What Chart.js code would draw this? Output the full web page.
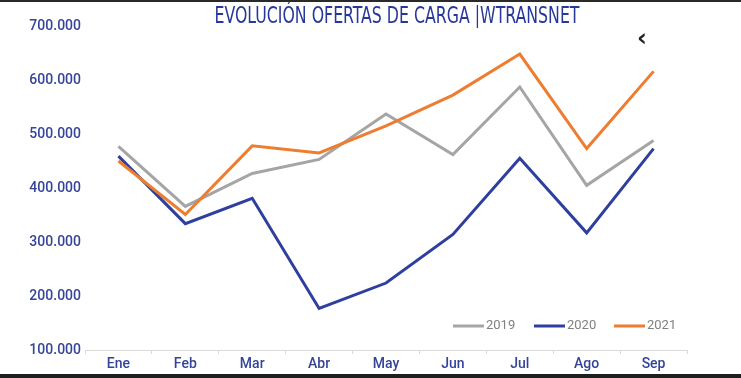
<!DOCTYPE html>
<html>
<head>
    <meta charset="UTF-8">
    <title>Evolución ofertas de carga</title>
    <script src="https://cdn.jsdelivr.net/npm/chart.js"></script>
    <style>
        html, body { margin: 0; padding: 0; background: #ffffff; }
        .wrap { position: relative; width: 741px; height: 378px; overflow: hidden; }
        .band-top { position: absolute; left: 0; top: 0; width: 741px; height: 2px; background: #2a2a2a; }
        .band-bottom { position: absolute; left: 0; top: 374px; width: 741px; height: 4px; background: #1e1e1e; }
        .back { position: absolute; left: 637px; top: 24px; font: bold 24px "DejaVu Sans", sans-serif; color: #222; }
    </style>
</head>
<body>
<div class="wrap">
    <canvas id="chart" width="741" height="378"></canvas>
    <div class="band-top"></div>
    <div class="band-bottom"></div>
    <div class="back">‹</div>
</div>
<script>
// datos
const titulo = 'EVOLUCIÓN OFERTAS DE CARGA |WTRANSNET';
const meses = ['Ene', 'Feb', 'Mar', 'Abr', 'May', 'Jun', 'Jul', 'Ago', 'Sep'];
const ofertas2019 = [477000, 366000, 427000, 453000, 537000, 462000, 587000, 405000, 488000];
const ofertas2020 = [459000, 334000, 381000, 177000, 224000, 314000, 455000, 317000, 473000];
const ofertas2021 = [450000, 351000, 478000, 465000, 515000, 572000, 648000, 473000, 616000];
const ejeMin = 100000;
const ejeMax = 700000;
const ejePaso = 100000;

const azulTexto = '#34449a';

// título y leyenda dibujados a mano
const extras = {
    id: 'extras',
    afterDraw(chart) {
        const ctx = chart.ctx;
        ctx.save();
        ctx.font = '23px "Liberation Sans Narrow", "DejaVu Sans Condensed", sans-serif';
        ctx.fillStyle = '#27389a';
        ctx.textAlign = 'center';
        ctx.textBaseline = 'middle';
        ctx.fillText(titulo, 397, 17, 365);

        // leyenda
        const xs = [453, 534, 614];
        const y = 326;
        ctx.font = '13px Roboto, sans-serif';
        ctx.textAlign = 'left';
        chart.data.datasets.forEach((ds, i) => {
            ctx.strokeStyle = ds.borderColor;
            ctx.lineWidth = 3;
            ctx.beginPath();
            ctx.moveTo(xs[i], y);
            ctx.lineTo(xs[i] + 31, y);
            ctx.stroke();
            ctx.fillStyle = '#808080';
            ctx.fillText(ds.label, xs[i] + 33, y);
        });
        ctx.restore();
    }
};

new Chart(document.getElementById('chart'), {
    type: 'line',
    data: {
        labels: meses,
        datasets: [
            { label: '2019', data: ofertas2019, borderColor: '#a5a5a5', order: 3 },
            { label: '2020', data: ofertas2020, borderColor: '#2f3f9e', order: 2 },
            { label: '2021', data: ofertas2021, borderColor: '#ed7d31', order: 1 }
        ]
    },
    options: {
        responsive: false,
        animation: false,
        devicePixelRatio: 1,
        layout: { padding: { left: 0, right: 54, top: 26, bottom: 0 } },
        elements: {
            line: { borderWidth: 3, tension: 0, fill: false },
            point: { radius: 0, hoverRadius: 0 }
        },
        plugins: {
            legend: { display: false },
            title: { display: false },
            tooltip: { enabled: false }
        },
        scales: {
            x: {
                offset: true,
                grid: { display: true, drawOnChartArea: false, offset: true, tickLength: 4, color: '#d9d9d9' },
                border: { display: true, color: '#d9d9d9', width: 1 },
                ticks: { color: azulTexto, padding: 2, font: { family: 'Roboto', size: 14, weight: '500' } },
                afterFit(scale) { scale.height = 28; }
            },
            y: {
                min: ejeMin,
                max: ejeMax,
                grid: { display: false, drawTicks: false },
                border: { display: false },
                ticks: {
                    stepSize: ejePaso,
                    padding: 4,
                    color: azulTexto,
                    font: { family: 'Roboto', size: 14, weight: '500' },
                    callback: v => (v / 1000) + '.000'
                },
                afterFit(scale) { scale.width = 85; }
            }
        }
    },
    plugins: [extras]
});
</script>
</body>
</html>
